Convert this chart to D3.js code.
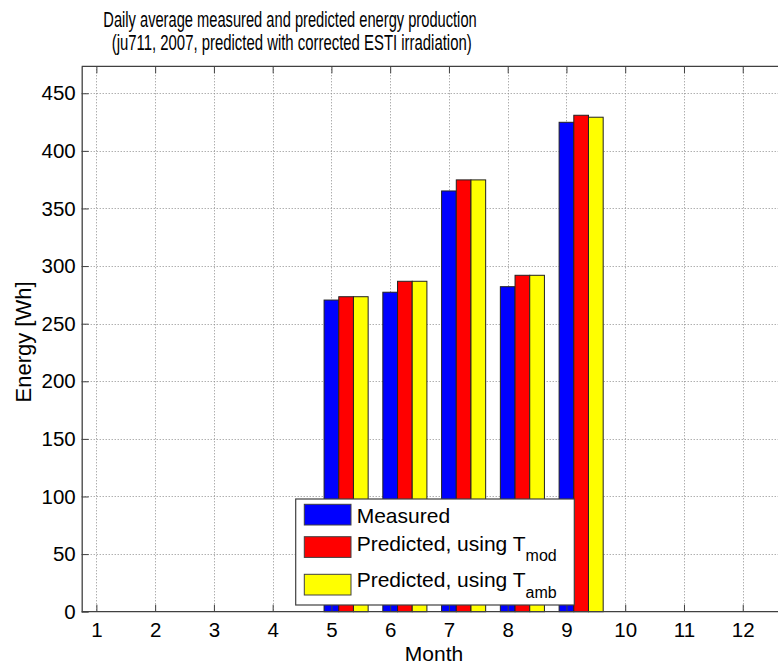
<!DOCTYPE html>
<html>
<head>
<meta charset="utf-8">
<script src="https://cdn.jsdelivr.net/npm/d3@7/dist/d3.min.js"></script>
<style>
  html, body { margin: 0; padding: 0; background: #fff; }
  svg { display: block; }
  text { font-family: "Liberation Sans", Arial, Helvetica, sans-serif; fill: #000; }
</style>
</head>
<body>
<div id="chart"></div>
<script>
// ---- data ----
const months = [1, 2, 3, 4, 5, 6, 7, 8, 9, 10, 11, 12];
const dataMonths = [5, 6, 7, 8, 9];
const measured = [270.5, 277.3, 365.2, 282.1, 424.8];
const predTmod = [273.4, 286.8, 374.8, 292.0, 430.9];
const predTamb = [273.4, 286.8, 374.8, 292.0, 429.2];
const yTicks = [0, 50, 100, 150, 200, 250, 300, 350, 400, 450];
const seriesNames = ["Measured", "Predicted, using T", "Predicted, using T"];
const seriesSubs = ["", "mod", "amb"];
const seriesColors = ["#0000ff", "#ff0000", "#ffff00"];
const seriesOffsets = [0, 0.25, 0.5];
const titleLines = [
  "Daily average measured and predicted energy production",
  "(ju711, 2007, predicted with corrected ESTI irradiation)"
];

(function () {
const W = 778, H = 668;
const pLeft = 81.7, pRight = 786.8, pTop = 66.3, pBottom = 611.7;

const svg = d3.select("#chart").append("svg")
  .attr("width", W).attr("height", H);

const x = d3.scaleLinear().domain([0.75, 12.75]).range([pLeft, pRight]);
const y = d3.scaleLinear().domain([0, 473.4]).range([pBottom, pTop]);
const barW = x(0.25) - x(0);

// grid
const grid = svg.append("g").attr("stroke", "#8c8c8c").attr("stroke-width", 1)
  .attr("stroke-dasharray", "1,2");
grid.selectAll("line.v").data(months).join("line")
  .attr("x1", d => Math.round(x(d)) + 0.5).attr("x2", d => Math.round(x(d)) + 0.5)
  .attr("y1", pTop).attr("y2", pBottom);
grid.selectAll("line.h").data(yTicks.filter(d => d > 0)).join("line")
  .attr("x1", pLeft).attr("x2", W)
  .attr("y1", d => Math.round(y(d)) + 0.5).attr("y2", d => Math.round(y(d)) + 0.5);

// bars
const series = [measured, predTmod, predTamb];
series.forEach((vals, si) => {
  svg.append("g").selectAll("rect").data(vals).join("rect")
    .attr("x", (d, i) => x(dataMonths[i] + seriesOffsets[si]) - barW / 2)
    .attr("width", barW)
    .attr("y", d => y(d))
    .attr("height", d => y(0) - y(d))
    .attr("fill", seriesColors[si])
    .attr("stroke", "#222")
    .attr("stroke-width", 1);
});

// axes
const axisColor = "#404040";
const xAxisB = svg.append("g").attr("transform", `translate(0,${pBottom})`)
  .call(d3.axisBottom(x).tickValues(months).tickSizeInner(-7).tickSizeOuter(0).tickPadding(12));
const xAxisT = svg.append("g").attr("transform", `translate(0,${pTop})`)
  .call(d3.axisTop(x).tickValues(months).tickSizeInner(-7).tickSizeOuter(0).tickFormat(""));
const yAxisL = svg.append("g").attr("transform", `translate(${pLeft},0)`)
  .call(d3.axisLeft(y).tickValues(yTicks).tickSizeInner(-7).tickSizeOuter(0).tickPadding(6));
[xAxisB, xAxisT, yAxisL].forEach(g => {
  g.select(".domain").attr("stroke", axisColor).attr("stroke-width", 1.3);
  g.selectAll(".tick line").attr("stroke", axisColor).attr("stroke-width", 1);
  g.selectAll(".tick text").attr("font-size", 20.5)
    .attr("font-family", '"Liberation Sans", Arial, sans-serif').attr("fill", "#000");
});
xAxisB.select(".domain").attr("d", `M${pLeft},0H${W}`);
xAxisT.select(".domain").attr("d", `M${pLeft},0H${W}`);
xAxisB.selectAll(".tick text").attr("dy", null).attr("y", 25);

// labels
svg.append("text").attr("x", 434).attr("y", 661).attr("text-anchor", "middle")
  .attr("font-size", 21).text("Month");
svg.append("text").attr("transform", `translate(30.5,342) rotate(-90)`)
  .attr("text-anchor", "middle").attr("font-size", 22).text("Energy [Wh]");

// title
const titleX = [103.3, 111.7], titleLen = [373.4, 360], titleY = [26.5, 50.3];
titleLines.forEach((t, i) => {
  svg.append("text").attr("x", titleX[i]).attr("y", titleY[i])
    .attr("font-size", 22).attr("textLength", titleLen[i])
    .attr("lengthAdjust", "spacingAndGlyphs").text(t);
});

// legend
const lg = svg.append("g");
lg.append("rect").attr("x", 295.7).attr("y", 499).attr("width", 278.6).attr("height", 106)
  .attr("fill", "#fff").attr("stroke", "#404040").attr("stroke-width", 1.2);
const swY = [504.3, 536.7, 574.3], txtY = [523.3, 550.7, 587.3];
seriesNames.forEach((name, i) => {
  lg.append("rect").attr("x", 304.3).attr("y", swY[i]).attr("width", 46.7).attr("height", 20.7)
    .attr("fill", seriesColors[i]).attr("stroke", "#404040").attr("stroke-width", 1);
  const t = lg.append("text").attr("x", 356.7).attr("y", txtY[i]).attr("font-size", 21);
  t.append("tspan").text(name);
  if (seriesSubs[i]) {
    t.append("tspan").attr("dy", 10.3).attr("font-size", 16).text(seriesSubs[i]);
  }
});
})();
</script>
</body>
</html>
